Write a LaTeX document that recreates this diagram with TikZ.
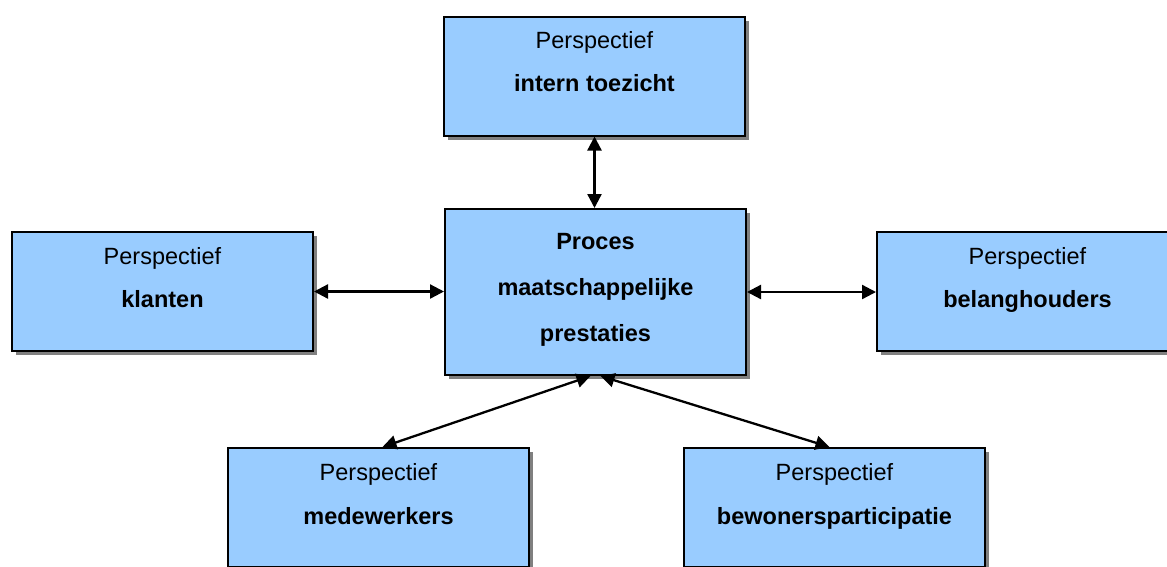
\documentclass[tikz,border=0pt]{standalone}
\usepackage{fontspec}
\setmainfont{Liberation Sans}
\usetikzlibrary{arrows.meta,shadows,positioning}
\definecolor{boxblue}{RGB}{153,204,255}
\tikzset{
  box/.style={draw=black,line width=2pt,fill=boxblue,minimum width=301pt,minimum height=119pt,inner sep=0pt,
    drop shadow={shadow xshift=4pt,shadow yshift=-4pt,fill=black!50,opacity=1}},
  txt/.style={anchor=base,inner sep=0pt,font=\fontsize{23.5}{28}\selectfont},
  link/.style={line width=2.3pt,{Triangle[length=14pt,width=14pt]}-{Triangle[length=14pt,width=14pt]}}
}
\newcommand{\setup}{
    \coordinate (c0) at (595.5,292);   % proces
    \coordinate (c1) at (594.5,76);    % intern toezicht
    \coordinate (c2) at (162.5,291.5); % klanten
    \coordinate (c3) at (1027.5,291.5);% belanghouders
    \coordinate (c4) at (378.5,507.5); % medewerkers
    \coordinate (c5) at (834.5,507.5); % bewonersparticipatie
}

\begin{document}
\begin{tikzpicture}[x=1pt,y=-1pt]
          \useasboundingbox (0,0) rectangle (1167,566);
          \clip (0,0) rectangle (1167,566);
          \setup;

          \node[box,minimum height=166pt] (proces) at (c0) {};
          \node[box] (toezicht) at (c1) {};
          \node[box] (klanten) at (c2) {};
          \node[box] (belang) at (c3) {};
          \node[box] (medew) at (c4) {};
          \node[box] (bewoners) at (c5) {};

          \node[txt] (proces-a) at ([yshift=-41pt]proces.north) {\textbf{Proces}};
          \node[txt] (proces-b) at ([yshift=-87pt]proces.north) {\textbf{maatschappelijke}};
          \node[txt] (proces-c) at ([yshift=-133pt]proces.north) {\textbf{prestaties}};

          \node[txt] (toezicht-a) at ([yshift=-33pt]toezicht.north) {Perspectief};
          \node[txt] (toezicht-b) at ([yshift=-76pt]toezicht.north) {\textbf{intern toezicht}};
          \node[txt] (klanten-a) at ([yshift=-33pt]klanten.north) {Perspectief};
          \node[txt] (klanten-b) at ([yshift=-76pt]klanten.north) {\textbf{klanten}};
          \node[txt] (belang-a) at ([yshift=-33pt]belang.north) {Perspectief};
          \node[txt] (belang-b) at ([yshift=-76pt]belang.north) {\textbf{belanghouders}};
          \node[txt] (medew-a) at ([yshift=-33pt]medew.north) {Perspectief};
          \node[txt] (medew-b) at ([yshift=-77pt]medew.north) {\textbf{medewerkers}};
          \node[txt] (bewoners-a) at ([yshift=-33pt]bewoners.north) {Perspectief};
          \node[txt] (bewoners-b) at ([yshift=-77pt]bewoners.north) {\textbf{bewonersparticipatie}};

          \draw[link] (toezicht.south) -- (toezicht.south |- proces.north);
          \draw[link] (klanten.east) -- (klanten.east -| proces.west);
          \draw[link] (proces.east) -- (proces.east -| belang.west);
          \draw[link] ([xshift=-5pt]proces.south) -- ([xshift=4pt]medew.north);
          \draw[link] ([xshift=5pt]proces.south) -- ([xshift=-5pt]bewoners.north);
\end{tikzpicture}
\end{document}
